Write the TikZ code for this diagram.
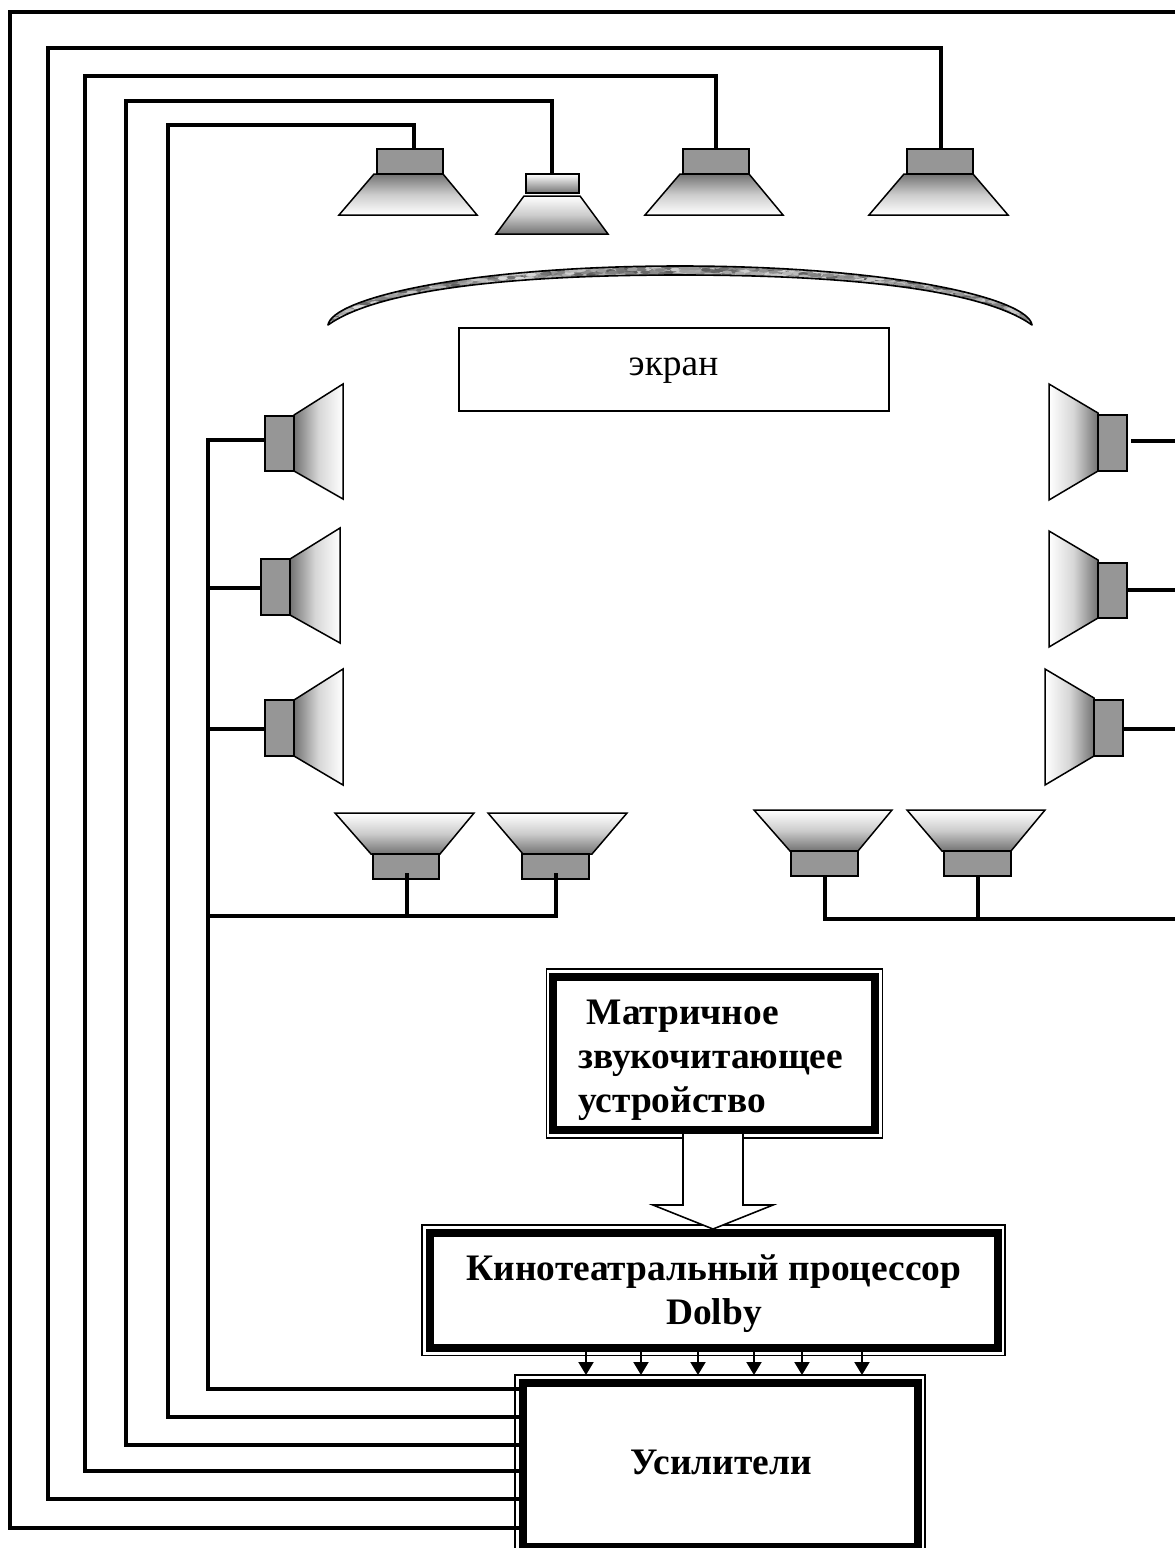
\documentclass[tikz,border=0pt]{standalone}
\usepackage{fontspec}
\setmainfont{Liberation Serif}
\usetikzlibrary{arrows.meta}
\tikzset{
  x=1pt,y=-1pt,
  wire/.style={line width=3.8pt,line join=miter,draw=black},
  thin frame/.style={draw=black,line width=1.6pt,inner sep=0pt,outer sep=0pt,fill=white},
  thick frame/.style={draw=black,line width=8pt,inner sep=0pt,outer sep=0pt,fill=white},
  magnet/.style={draw=black,line width=1.5pt,fill=black!41,inner sep=0pt,outer sep=0pt},
  cone/.style={draw=black,line width=1.5pt,line join=miter},
  cone down/.style={cone,top color=black!55,bottom color=white,middle color=black!20},
  cone up/.style={cone,top color=white,bottom color=black!55,middle color=black!20},
  cone right/.style={cone,left color=black!55,right color=white,middle color=black!16},
  cone left/.style={cone,left color=white,right color=black!55,middle color=black!16},
  tiny arrow/.style={line width=2pt,-{Triangle[length=13pt,width=15pt]}},
  label bold/.style={font=\fontsize{37.4}{44}\selectfont\bfseries,inner sep=0pt,align=center},
}
\newcommand{\boxat}[6]{% style,name,x1,y1,x2,y2
  \pgfmathsetmacro\bcx{(#3+#5)/2}\pgfmathsetmacro\bcy{(#4+#6)/2}
  \pgfmathsetmacro\bwd{#5-#3}\pgfmathsetmacro\bht{#6-#4}
  \node[#1,minimum width=\bwd pt,minimum height=\bht pt] (#2) at (\bcx,\bcy) {};
}
\begin{document}
\begin{tikzpicture}
\useasboundingbox (0,0) rectangle (1175,1548);
\fill[white] (0,0) rectangle (1175,1548);

% ---- boxes
\boxat{thin frame}{matO}{546.5}{969}{882.5}{1138}
\boxat{thick frame}{mat}{553}{976.5}{875}{1130}
\boxat{thin frame}{procO}{422}{1225}{1005}{1355.5}
\boxat{thick frame}{proc}{430}{1232.5}{997.5}{1348}
\boxat{thin frame}{ampO}{515}{1375}{925}{1560}
\boxat{thick frame}{amp}{522.5}{1382.5}{917.5}{1547}
\boxat{thin frame}{scr}{459}{328}{889}{411}

\node[font=\fontsize{37.4}{40}\selectfont,inner sep=0pt,anchor=base] (scrtext) at (673.5,375) {экран};
\node[label bold,anchor=base west,align=left] (mattext) at (578,1112) {\hspace*{8.5pt}Матричное\\звукочитающее\\устройство};
\node[label bold,anchor=base] (proctext) at (714,1324) {Кинотеатральный процессор\\Dolby};
\node[label bold,anchor=center] (amptext) at (721,1462) {Усилители};

% ---- screen
\begin{scope}
\clip (328,325) .. controls (332,298) and (470,266) .. (680,266)
      .. controls (890,266) and (1028,298) .. (1032,325)
      .. controls (990,295) and (880,275) .. (680,275)
      .. controls (480,275) and (370,295) .. (328,325) -- cycle;
\fill[black!45] (320,260) rectangle (1040,330);
\pgfmathsetseed{11}
\foreach \i in {1,...,900}{
  \pgfmathsetmacro\xx{330+700*rnd}
  \pgfmathsetmacro\uu{abs(\xx-680)/352}
  \pgfmathsetmacro\yy{270+52*\uu*\uu*\uu+10*(rnd-0.5)}
  \pgfmathsetmacro\gg{15+50*rnd}
  \fill[black!\gg] (\xx,\yy) ellipse [x radius=5pt,y radius=1.8pt];
}
\end{scope}
\draw[line width=1.6pt,line join=round] (328,325) .. controls (332,298) and (470,266) .. (680,266)
      .. controls (890,266) and (1028,298) .. (1032,325)
      .. controls (990,295) and (880,275) .. (680,275)
      .. controls (480,275) and (370,295) .. (328,325) -- cycle;

% ---- top speakers
\draw[cone down] (374,174) -- (443,174) -- (477,215) -- (339,215) -- cycle;
\boxat{magnet}{s1}{377}{149}{443}{174}
\draw[cone up] (524,196) -- (580,196) -- (608,234) -- (496,234) -- cycle;
\boxat{magnet,top color=white,bottom color=black!55}{s2}{526}{174}{579}{193}
\draw[cone down] (680,174) -- (749,174) -- (783,215) -- (645,215) -- cycle;
\boxat{magnet}{s3}{683}{149}{749}{174}
\draw[cone down] (904,174) -- (973,174) -- (1008,215) -- (869,215) -- cycle;
\boxat{magnet}{s4}{907}{149}{973}{174}

% ---- left speakers
\draw[cone right] (294,415) -- (343,384) -- (343,499) -- (294,471) -- cycle;
\boxat{magnet}{l1}{265}{416}{294}{471}
\draw[cone right] (290,559) -- (340,528) -- (340,643) -- (290,615) -- cycle;
\boxat{magnet}{l2}{261}{559}{290}{615}
\draw[cone right] (294,700) -- (343,669) -- (343,785) -- (294,756) -- cycle;
\boxat{magnet}{l3}{265}{700}{294}{756}

% ---- right speakers
\draw[cone left] (1098,413) -- (1049,384) -- (1049,500) -- (1098,471) -- cycle;
\boxat{magnet}{r1}{1098}{415}{1127}{471}
\draw[cone left] (1098,560) -- (1049,531) -- (1049,647) -- (1098,618) -- cycle;
\boxat{magnet}{r2}{1098}{563}{1127}{618}
\draw[cone left] (1094,698) -- (1045,669) -- (1045,785) -- (1094,756) -- cycle;
\boxat{magnet}{r3}{1094}{700}{1123}{756}

% ---- bottom speakers
\draw[cone up] (335,813) -- (474,813) -- (440,854) -- (371,854) -- cycle;
\boxat{magnet}{b1}{373}{854}{439}{879}
\draw[cone up] (488,813) -- (627,813) -- (592,854) -- (523,854) -- cycle;
\boxat{magnet}{b2}{522}{854}{589}{879}
\draw[cone up] (754,810) -- (892,810) -- (858,851) -- (790,851) -- cycle;
\boxat{magnet}{b3}{791}{851}{858}{876}
\draw[cone up] (907,810) -- (1045,810) -- (1011,851) -- (942,851) -- cycle;
\boxat{magnet}{b4}{944}{851}{1011}{876}

% ---- wire end points
\coordinate (edgeA) at (1175,12);
\coordinate (edgeB) at (1175,441);
\coordinate (edgeC) at (1175,590);
\coordinate (edgeD) at (1175,729);
\coordinate (edgeE) at (1175,919);
\coordinate (gapR) at (1131,441);

% ---- wires from amplifier to speakers
\draw[wire,line width=3.4pt] (amp.west |- 0,1528) -- (10,1528) -- (10,12) -- (edgeA);
\draw[wire] (amp.west |- 0,1499) -- (48,1499) -- (48,48) -- (941,48) -- (941,149);
\draw[wire] (amp.west |- 0,1471) -- (85,1471) -- (85,76) -- (716,76) -- (716,149);
\draw[wire] (amp.west |- 0,1445) -- (126,1445) -- (126,101) -- (552,101) -- (552,174);
\draw[wire] (amp.west |- 0,1417) -- (168,1417) -- (168,125) -- (414,125) -- (414,149);
\draw[wire] (amp.west |- 0,1389) -- (208,1389) -- (208,440) -- (l1.west |- 0,440);
\draw[wire] (208,588) -- (l2.west |- 0,588);
\draw[wire] (208,729) -- (l3.west |- 0,729);
\draw[wire] (208,916) -- (556,916) -- (b2.south -| 556,0) -- ++(0,-6);
\draw[wire] (407,918) -- (b1.south -| 407,0) -- ++(0,-6);
\draw[wire] (gapR) -- (edgeB);
\draw[wire] (r2.east |- edgeC) -- (edgeC);
\draw[wire] (r3.east |- edgeD) -- (edgeD);
\draw[wire] (edgeE) -- (825,919) -- (b3.south -| 825,0);
\draw[wire] (978,921) -- (b4.south -| 978,0);

% ---- big arrow
\draw[line width=1.6pt,fill=white,line join=miter] (683,1134) -- (683,1205) -- (653,1205) -- (713,1229) -- (773,1205) -- (743,1205) -- (743,1134);

% ---- small arrows
\foreach \xa in {586,641,698,754,802,862}
  \draw[tiny arrow] (proc.south -| \xa,0) -- (ampO.north -| \xa,0);
\end{tikzpicture}
\end{document}
